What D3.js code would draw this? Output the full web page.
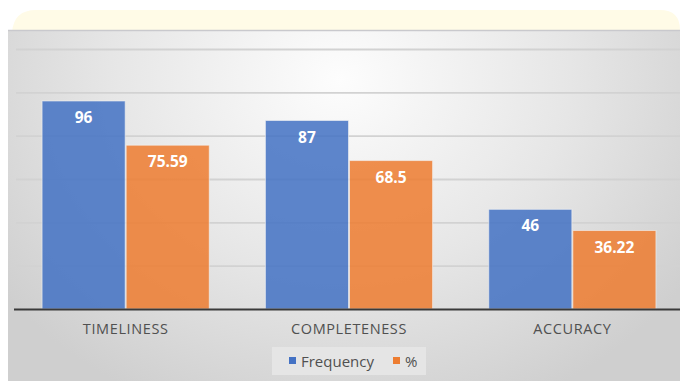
<!DOCTYPE html>
<html><head><meta charset="utf-8">
<script src="https://cdn.jsdelivr.net/npm/d3@7"></script>
<style>html,body{margin:0;padding:0;background:#fff;}svg{display:block;}</style>
</head><body>
<script>
const categories = ["TIMELINESS", "COMPLETENESS", "ACCURACY"];
const seriesNames = ["Frequency", "%"];
const frequency = [96, 87, 46];
const percent = [75.59, 68.5, 36.22];
const percentLabels = ["75.59", "68.5", "36.22"];
const yTicks = [0, 20, 40, 60, 80, 100, 120];
const colors = ["#4472c4", "#ed7d31"];

const W = 680, H = 381;
const svg = d3.select("body").append("svg").attr("width", W).attr("height", H);
const defs = svg.append("defs");

// background gradient
const rg = defs.append("radialGradient").attr("id", "bg")
  .attr("gradientUnits", "userSpaceOnUse")
  .attr("cx", 340).attr("cy", 80).attr("r", 420)
  .attr("gradientTransform", "translate(340,80) scale(1,0.85) translate(-340,-80)");
rg.append("stop").attr("offset", "0").attr("stop-color", "#fdfdfd");
rg.append("stop").attr("offset", "0.55").attr("stop-color", "#e6e6e6");
rg.append("stop").attr("offset", "1").attr("stop-color", "#cfcfcf");

const gg = defs.append("linearGradient").attr("id", "gridg")
  .attr("gradientUnits", "userSpaceOnUse")
  .attr("x1", 0).attr("y1", 49).attr("x2", 0).attr("y2", 270);
gg.append("stop").attr("offset", "0").attr("stop-color", "#d2d2d2");
gg.append("stop").attr("offset", "0.25").attr("stop-color", "#bcbcbc");
gg.append("stop").attr("offset", "0.5").attr("stop-color", "#9c9c9c");
gg.append("stop").attr("offset", "1").attr("stop-color", "#8c8c8c");

// yellow banner
svg.append("path")
  .attr("d", "M12,30 L12,32 Q14,10 36,10 L660,10 Q680,10 680,30 Z")
  .attr("fill", "#fffbe7");

// gray panel
svg.append("rect").attr("x", 8).attr("y", 30).attr("width", W - 8).attr("height", H - 30)
  .attr("fill", "url(#bg)");
svg.append("line").attr("x1", 8).attr("x2", W).attr("y1", 30.5).attr("y2", 30.5)
  .attr("stroke", "#c9c9cd").attr("stroke-width", 1.5);

const x0 = d3.scaleBand().domain(categories).range([14, 684]).paddingInner(0.247).paddingOuter(0.1235);
const x1 = d3.scaleBand().domain(seriesNames).range([0, x0.bandwidth()]).padding(0);
const y = d3.scaleLinear().domain([0, 120]).range([309, 49]);

// gridlines
const yAxis = d3.axisLeft(y).tickValues(yTicks.slice(1)).tickSize(-(680 - 16)).tickFormat("");
const gy = svg.append("g").attr("transform", "translate(16,0)").call(yAxis);
gy.select(".domain").remove();
gy.selectAll(".tick line").attr("stroke", "url(#gridg)").attr("stroke-width", 1.8);

// bars
const data = categories.map((c, i) => ({cat: c, vals: [
  {s: seriesNames[0], v: frequency[i], label: String(frequency[i]), k: 0},
  {s: seriesNames[1], v: percent[i], label: percentLabels[i], k: 1}
]}));
const groups = svg.append("g").selectAll("g").data(data).join("g")
  .attr("transform", d => `translate(${x0(d.cat)},0)`);
groups.selectAll("rect").data(d => d.vals).join("rect")
  .attr("x", d => x1(d.s) + 0.5)
  .attr("width", x1.bandwidth() - 1)
  .attr("y", d => y(d.v))
  .attr("height", d => y(0) - y(d.v))
  .attr("fill", d => colors[d.k]).attr("fill-opacity", 0.86)
  .attr("stroke", "#f4f4f4").attr("stroke-opacity", 0.6).attr("stroke-width", 1);
groups.selectAll("text").data(d => d.vals).join("text")
  .attr("x", d => x1(d.s) + x1.bandwidth() / 2)
  .attr("y", d => y(d.v) + 22)
  .attr("text-anchor", "middle")
  .attr("font-family", "Open Sans, sans-serif").attr("font-weight", "bold")
  .attr("font-size", 15.5).attr("fill", "#fff")
  .text(d => d.label);

// x axis
const xAxis = d3.axisBottom(x0).tickSize(0).tickPadding(0);
const gx = svg.append("g").attr("transform", "translate(0,309)").call(xAxis);
gx.select(".domain").remove();
svg.append("line").attr("x1", 14).attr("x2", 680).attr("y1", 309.5).attr("y2", 309.5)
  .attr("stroke", "#3a3a3a").attr("stroke-width", 2);
gx.selectAll(".tick text").attr("y", 24.5).attr("dy", 0)
  .attr("font-family", "Open Sans, sans-serif").attr("font-size", 14.5)
  .attr("letter-spacing", 0.6).attr("fill", "#505050");

// legend
const lg = svg.append("g");
lg.append("rect").attr("x", 272).attr("y", 347).attr("width", 154).attr("height", 28).attr("fill", "#e5e5e5");
const items = [{n: seriesNames[0], x: 289}, {n: seriesNames[1], x: 393}];
items.forEach((it, i) => {
  lg.append("rect").attr("x", it.x).attr("y", 357).attr("width", 7).attr("height", 7).attr("fill", colors[i]);
  lg.append("text").attr("x", it.x + 12).attr("y", 366.5)
    .attr("font-family", "Open Sans, sans-serif").attr("font-size", 15).attr("fill", "#505050").text(it.n);
});
</script>
</body></html>
